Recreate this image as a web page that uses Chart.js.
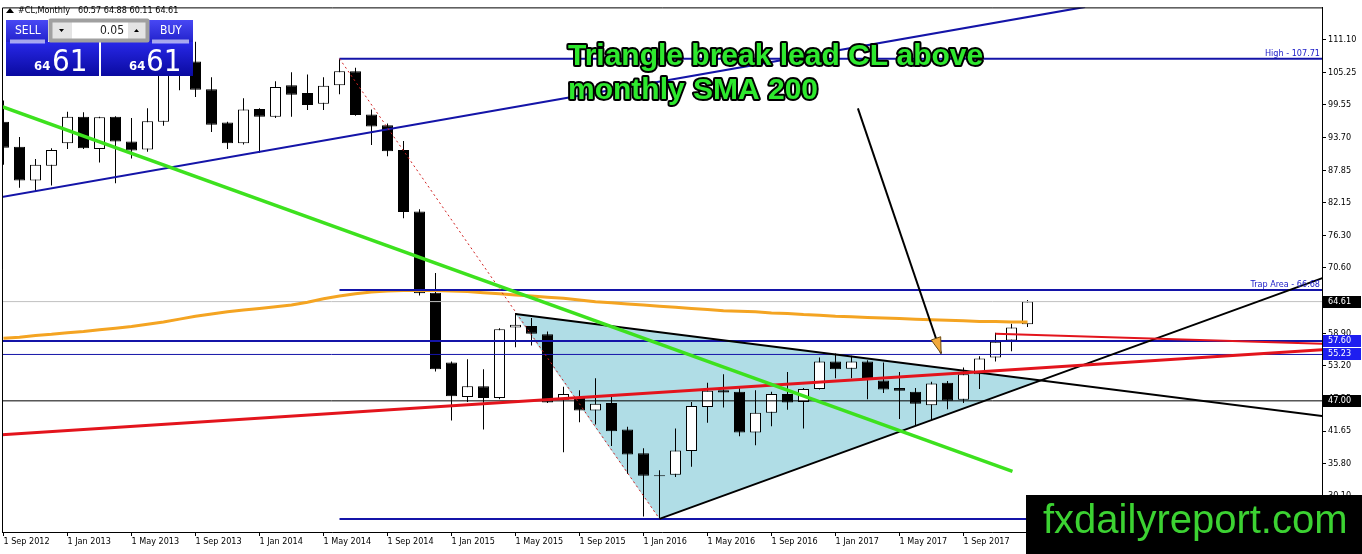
<!DOCTYPE html>
<html>
<head>
<meta charset="utf-8">
<title>#CL, Monthly</title>
<script src="https://cdn.jsdelivr.net/npm/chart.js@4.4.1/dist/chart.umd.min.js"></script>
<style>
    html, body { margin: 0; padding: 0; background: #fff; }
    #wrap { width: 1362px; height: 554px; position: relative; }
</style>
</head>
<body>
<div id="wrap"><canvas id="clChart" width="1362" height="554"></canvas></div>
<script>
// one candle per month
var months = ['Sep 2012', 'Oct 2012', 'Nov 2012', 'Dec 2012',
    'Jan 2013', 'Feb 2013', 'Mar 2013', 'Apr 2013', 'May 2013', 'Jun 2013', 'Jul 2013', 'Aug 2013', 'Sep 2013', 'Oct 2013', 'Nov 2013', 'Dec 2013',
    'Jan 2014', 'Feb 2014', 'Mar 2014', 'Apr 2014', 'May 2014', 'Jun 2014', 'Jul 2014', 'Aug 2014', 'Sep 2014', 'Oct 2014', 'Nov 2014', 'Dec 2014',
    'Jan 2015', 'Feb 2015', 'Mar 2015', 'Apr 2015', 'May 2015', 'Jun 2015', 'Jul 2015', 'Aug 2015', 'Sep 2015', 'Oct 2015', 'Nov 2015', 'Dec 2015',
    'Jan 2016', 'Feb 2016', 'Mar 2016', 'Apr 2016', 'May 2016', 'Jun 2016', 'Jul 2016', 'Aug 2016', 'Sep 2016', 'Oct 2016', 'Nov 2016', 'Dec 2016',
    'Jan 2017', 'Feb 2017', 'Mar 2017', 'Apr 2017', 'May 2017', 'Jun 2017', 'Jul 2017', 'Aug 2017', 'Sep 2017', 'Oct 2017', 'Nov 2017', 'Dec 2017',
    'Jan 2018'];

var opens = [96.5, 92.1, 86.1, 88.7,
    92.7, 97.4, 91.7, 97.4, 93.0, 91.6, 96.5, 105.0, 107.2, 102.3, 96.4, 92.7,
    98.8, 97.4, 103.0, 101.6, 99.7, 103.0, 105.5, 97.8, 95.9, 91.5, 80.6, 66.2,
    53.8, 47.7, 49.6, 47.5, 60.0, 60.3, 58.8, 47.2, 47.5, 45.3, 46.6, 41.9,
    37.7, 33.6, 33.9, 38.1, 45.9, 48.9, 48.6, 41.4, 44.9, 48.2, 46.8, 49.1,
    54.0, 52.7, 54.0, 50.6, 49.3, 48.6, 46.2, 50.2, 47.2, 51.7, 54.7, 57.7,
    60.57];
var highs = [100.3, 93.8, 89.9, 91.8,
    98.3, 98.2, 97.4, 97.5, 97.2, 98.9, 108.9, 112.2, 110.7, 104.4, 96.5, 100.7,
    98.9, 103.7, 105.3, 104.9, 104.4, 107.71, 106.1, 98.7, 96.2, 93.1, 81.0, 69.7,
    54.0, 54.4, 52.6, 59.9, 62.6, 61.7, 59.3, 49.5, 48.9, 51.0, 47.7, 42.4,
    38.6, 34.7, 42.1, 46.8, 50.2, 51.7, 49.5, 48.9, 48.6, 52.1, 49.3, 54.7,
    55.4, 55.0, 54.2, 53.8, 52.1, 49.3, 50.4, 50.5, 52.9, 54.9, 59.1, 60.7,
    64.88];
var lows = [88.9, 84.8, 84.1, 85.2,
    91.7, 91.7, 89.3, 85.6, 90.0, 91.2, 95.8, 102.1, 100.9, 94.7, 91.7, 92.5,
    91.0, 97.2, 97.4, 98.6, 98.6, 101.4, 97.6, 92.4, 90.4, 79.4, 65.7, 52.2,
    43.5, 46.8, 41.9, 47.3, 56.5, 56.8, 46.6, 37.9, 43.2, 42.8, 39.0, 34.0,
    26.5, 26.05, 33.5, 35.3, 43.1, 45.8, 40.7, 39.1, 42.5, 45.4, 42.1, 49.0,
    51.0, 51.0, 47.3, 48.4, 43.8, 42.6, 43.6, 45.5, 46.6, 49.1, 54.0, 55.8,
    60.11];
var closes = [91.9, 86.1, 88.9, 91.5,
    97.4, 91.8, 97.3, 93.0, 91.4, 96.6, 105.0, 107.6, 102.2, 96.0, 92.7, 98.7,
    97.4, 102.7, 101.3, 99.5, 102.9, 105.5, 97.7, 95.7, 91.3, 80.5, 66.1, 52.6,
    47.8, 49.6, 47.5, 59.7, 60.5, 58.9, 46.7, 48.2, 45.3, 46.5, 41.6, 37.5,
    33.7, 33.8, 38.2, 46.1, 48.8, 48.5, 41.4, 44.9, 48.2, 46.7, 49.1, 54.0,
    52.6, 54.0, 50.7, 49.0, 48.8, 46.5, 50.1, 47.0, 51.7, 54.5, 57.5, 60.0,
    64.61];

// monthly SMA 200 (orange)
var sma200 = [58.1, 58.3, 58.6, 58.8,
    59.1, 59.3, 59.6, 59.9, 60.2, 60.6, 61.0, 61.5, 62.0, 62.4, 62.8, 63.1,
    63.4, 63.7, 64.0, 64.5, 65.1, 65.6, 66.0, 66.3, 66.5, 66.6, 66.6, 66.6,
    66.5, 66.4, 66.2, 66.0, 65.8, 65.6, 65.4, 65.2, 64.9, 64.6, 64.4, 64.2,
    64.0, 63.8, 63.6, 63.4, 63.2, 63.0, 62.9, 62.8, 62.6, 62.5, 62.3, 62.2,
    62.0, 61.9, 61.8, 61.7, 61.6, 61.5, 61.4, 61.3, 61.2, 61.1, 61.1, 61.0,
    61.0];

// axis ticks
var xTickIdx = [0, 4, 8, 12, 16, 20, 24, 28, 32, 36, 40, 44, 48, 52, 56, 60];
var xTickLabels = ['1 Sep 2012', '1 Jan 2013', '1 May 2013', '1 Sep 2013', '1 Jan 2014', '1 May 2014', '1 Sep 2014', '1 Jan 2015',
    '1 May 2015', '1 Sep 2015', '1 Jan 2016', '1 May 2016', '1 Sep 2016', '1 Jan 2017', '1 May 2017', '1 Sep 2017'];
var yTicks = [111.10, 105.25, 99.55, 93.70, 87.85, 82.15, 76.30, 70.60, 64.75, 58.90, 53.20, 47.35, 41.65, 35.80, 30.10];

// levels (price)
var highLevel = 107.71;
var trapLevel = 66.68;
var bidLevel = 64.61;
var resistLevel = 57.60;
var supportLevel = 55.23;
var pivotLevel = 47.00;
var lowLevel = 26.05;

// drawn objects, [month index, price]
var channelLine = [[-1, 82.73], [67.6, 116.90]];
var greenLine = [[-0.19, 99.29], [63.06, 34.48]];
var redLine = [[-1, 40.83], [83, 56.18]];
var redShortLine = [[62, 58.90], [83, 57.10]];
var dropLine = [[21, 107.71], [41, 26.05]];
var triUpper = [[32, 62.41], [83, 44.10]];
var triLower = [[41, 26.05], [83, 69.37]];
var triangle = [[32, 62.41], [41, 26.05], [64.82, 50.62], [32, 62.41]];
var arrowLine = [[53.4, 98.9], [58.6, 55.4]];

var xMin = -0.09375, xMax = 82.40625;

function pts(arr) {
    return arr.map(function (p) { return { x: p[0], y: p[1] }; });
}
function hline(v, from) {
    return [{ x: from, y: v }, { x: 90, y: v }];
}
function lineSet(data, color, width, order, dash) {
    return {
        type: 'line', data: data, borderColor: color, borderWidth: width,
        borderDash: dash || [], pointRadius: 0, fill: false, tension: 0, order: order
    };
}

Chart.defaults.font.family = '"DejaVu Sans Condensed", "DejaVu Sans", sans-serif';
Chart.defaults.font.size = 9;
Chart.defaults.color = '#000';

// overlay: frame, texts, trade panel, price boxes, watermark
var overlayPlugin = {
    id: 'overlay',
    afterDraw: function (chart) {
        var ctx = chart.ctx;
        var area = chart.chartArea;
        var xs = chart.scales.x, ys = chart.scales.y;
        ctx.save();

        // frame top / left
        ctx.strokeStyle = '#000';
        ctx.lineWidth = 1;
        ctx.beginPath();
        ctx.moveTo(area.left + 0.5, area.bottom);
        ctx.lineTo(area.left + 0.5, area.top + 0.5);
        ctx.lineTo(area.right, area.top + 0.5);
        ctx.stroke();

        // level captions
        ctx.font = '9px "DejaVu Sans Condensed", "DejaVu Sans"';
        ctx.fillStyle = '#2020c8';
        ctx.textAlign = 'right';
        ctx.textBaseline = 'alphabetic';
        ctx.fillText('High - 107.71', area.right - 2, ys.getPixelForValue(highLevel) - 3);
        ctx.fillText('Trap Area - 66.68', area.right - 2, ys.getPixelForValue(trapLevel) - 3);

        // arrow head
        var sx = xs.getPixelForValue(arrowLine[0][0]), sy = ys.getPixelForValue(arrowLine[0][1]);
        var tx = xs.getPixelForValue(arrowLine[1][0]), ty = ys.getPixelForValue(arrowLine[1][1]);
        var len = Math.sqrt((tx - sx) * (tx - sx) + (ty - sy) * (ty - sy));
        var ux = (tx - sx) / len, uy = (ty - sy) / len;
        var bx = tx - ux * 16, by = ty - uy * 16;
        ctx.beginPath();
        ctx.moveTo(tx, ty);
        ctx.lineTo(bx - uy * 5, by + ux * 5);
        ctx.lineTo(bx + uy * 5, by - ux * 5);
        ctx.closePath();
        ctx.fillStyle = '#f2a93b';
        ctx.fill();
        ctx.strokeStyle = '#6b4a10';
        ctx.lineWidth = 1;
        ctx.stroke();

        // headline
        ctx.textAlign = 'left';
        ctx.font = 'bold 30px "Liberation Sans", Arial, sans-serif';
        ctx.lineJoin = 'round';
        ctx.lineWidth = 4;
        ctx.strokeStyle = '#000';
        ctx.fillStyle = '#2ee82e';
        ctx.strokeText('Triangle break lead CL above', 568, 65);
        ctx.fillText('Triangle break lead CL above', 568, 65);
        ctx.strokeText('monthly SMA 200', 568, 99);
        ctx.fillText('monthly SMA 200', 568, 99);

        // price boxes on the right axis
        function priceBox(v, bg) {
            var y = Math.round(ys.getPixelForValue(v));
            ctx.fillStyle = bg;
            ctx.fillRect(area.right + 1, y - 6, 38, 12);
            ctx.fillStyle = '#fff';
            ctx.font = '9px "DejaVu Sans Condensed", "DejaVu Sans"';
            ctx.textAlign = 'left';
            ctx.textBaseline = 'middle';
            ctx.fillText(v.toFixed(2), area.right + 6, y);
        }
        priceBox(bidLevel, '#000');
        priceBox(resistLevel, '#1e1ef0');
        priceBox(supportLevel, '#1e1ef0');
        priceBox(pivotLevel, '#000');

        // header
        ctx.fillStyle = '#000';
        ctx.beginPath();
        ctx.moveTo(6, 13); ctx.lineTo(10, 8); ctx.lineTo(14, 13); ctx.closePath();
        ctx.fill();
        ctx.font = '9px "DejaVu Sans Condensed", "DejaVu Sans"';
        ctx.textBaseline = 'middle';
        ctx.textAlign = 'left';
        ctx.fillText('#CL,Monthly', 18, 11);
        ctx.fillText('60.57 64.88 60.11 64.61', 78, 11);

        // trade panel
        function grad(y0, y1, c0, c1) {
            var g = ctx.createLinearGradient(0, y0, 0, y1);
            g.addColorStop(0, c0);
            g.addColorStop(1, c1);
            return g;
        }
        ctx.fillStyle = grad(20, 42, '#4848f4', '#2222cc');
        ctx.fillRect(6, 20, 42, 22);
        ctx.fillRect(149, 20, 44, 22);
        ctx.fillStyle = grad(42, 76, '#2828e8', '#0a0aa0');
        ctx.fillRect(6, 42, 93, 34);
        ctx.fillRect(101, 42, 92, 34);
        ctx.strokeStyle = 'rgba(255,255,255,0.6)';
        ctx.beginPath();
        ctx.moveTo(10, 41.5); ctx.lineTo(45, 41.5);
        ctx.moveTo(152, 41.5); ctx.lineTo(189, 41.5);
        ctx.stroke();
        // spinner
        ctx.fillStyle = '#e4e4e4';
        ctx.fillRect(50, 20, 98, 21);
        ctx.fillStyle = '#fff';
        ctx.fillRect(72, 21, 56, 19);
        ctx.strokeStyle = '#a0a0a0';
        ctx.strokeRect(50.5, 20.5, 97, 20);
        ctx.fillStyle = '#000';
        ctx.beginPath();
        ctx.moveTo(59, 29); ctx.lineTo(64, 29); ctx.lineTo(61.5, 32); ctx.closePath();
        ctx.moveTo(134, 32); ctx.lineTo(139, 32); ctx.lineTo(136.5, 29); ctx.closePath();
        ctx.fill();
        ctx.font = '12px "DejaVu Sans Condensed", "DejaVu Sans"';
        ctx.textAlign = 'right';
        ctx.fillStyle = '#222';
        ctx.fillText('0.05', 124, 31);
        ctx.textAlign = 'left';
        ctx.fillStyle = '#fff';
        ctx.fillText('SELL', 15, 31);
        ctx.fillText('BUY', 160, 31);
        ctx.textBaseline = 'alphabetic';
        ctx.font = 'bold 13px "DejaVu Sans Condensed", "DejaVu Sans"';
        ctx.fillText('64', 34, 70);
        ctx.fillText('64', 129, 70);
        ctx.font = '31px "DejaVu Sans Condensed", "DejaVu Sans"';
        ctx.fillText('61', 52, 71);
        ctx.fillText('61', 146, 71);

        // watermark
        ctx.fillStyle = '#000';
        ctx.fillRect(1026, 495, 336, 59);
        ctx.fillStyle = '#3cd232';
        ctx.font = '40px "Liberation Sans", Arial, sans-serif';
        ctx.textAlign = 'left';
        ctx.fillText('fxdailyreport.com', 1043, 533);

        ctx.restore();
    }
};

var wickData = months.map(function (m, i) { return { x: i, y: [lows[i], highs[i]] }; });
var bodyData = months.map(function (m, i) { return { x: i, y: [opens[i], closes[i]] }; });
var bodyColors = months.map(function (m, i) { return closes[i] >= opens[i] ? '#fff' : '#000'; });
var smaData = sma200.map(function (v, i) { return { x: i, y: v }; });

var ctx = document.getElementById('clChart').getContext('2d');
var chart = new Chart(ctx, {
    type: 'bar',
    data: {
        datasets: [
            {
                type: 'line', data: pts(triangle), borderWidth: 0, pointRadius: 0,
                backgroundColor: '#b0dde6', fill: 'shape', tension: 0, order: 20
            },
            {
                type: 'bar', data: wickData, backgroundColor: '#000', borderWidth: 0,
                barThickness: 1, maxBarThickness: 1, grouped: false, inflateAmount: 0, order: 19
            },
            {
                type: 'bar', data: bodyData, backgroundColor: bodyColors, borderColor: '#000', borderWidth: 1,
                borderSkipped: false, barThickness: 11, maxBarThickness: 11, grouped: false, inflateAmount: 0, order: 18
            },
            lineSet(hline(bidLevel, -1), '#c0c0c0', 1, 17),
            lineSet(smaData, '#f4a422', 3, 16),
            lineSet(hline(pivotLevel, -1), '#000', 1, 15),
            lineSet(hline(supportLevel, -1), '#1414a8', 1, 14),
            lineSet(hline(resistLevel, -1), '#1414a8', 2, 13),
            lineSet(hline(highLevel, 21), '#1414a8', 2, 12),
            lineSet(hline(trapLevel, 21), '#1414a8', 2, 11),
            lineSet(hline(lowLevel, 21), '#1414a8', 2, 10),
            lineSet(pts(channelLine), '#1414a8', 2, 9),
            lineSet(pts(dropLine), '#d02020', 1, 8, [2, 3]),
            lineSet(pts(triUpper), '#000', 2, 7),
            lineSet(pts(triLower), '#000', 2, 6),
            lineSet(pts(redLine), '#e3141c', 3, 5),
            lineSet(pts(redShortLine), '#e3141c', 2, 4),
            lineSet(pts(greenLine), '#3de11e', 3.5, 3),
            lineSet(pts(arrowLine), '#000', 2, 2)
        ]
    },
    options: {
        responsive: false,
        devicePixelRatio: 1,
        animation: false,
        events: [],
        layout: { padding: { left: 2, top: 2, right: 0, bottom: 0 } },
        plugins: { legend: { display: false }, tooltip: { enabled: false } },
        scales: {
            x: {
                type: 'linear', min: xMin, max: xMax, offset: false,
                grid: { drawOnChartArea: false, drawTicks: true, tickLength: 4, color: '#000', offset: false },
                border: { display: true, color: '#000' },
                afterBuildTicks: function (scale) {
                    scale.ticks = xTickIdx.map(function (v) { return { value: v }; });
                },
                afterFit: function (scale) { scale.height = 22; },
                ticks: {
                    align: 'start', autoSkip: false, maxRotation: 0, minRotation: 0, padding: 0,
                    callback: function (value, index) { return xTickLabels[index]; }
                }
            },
            y: {
                type: 'linear', position: 'right', min: 23.73, max: 116.81, beginAtZero: false,
                grid: { drawOnChartArea: false, drawTicks: true, tickLength: 4, color: '#000' },
                border: { display: true, color: '#000' },
                afterBuildTicks: function (scale) {
                    scale.ticks = yTicks.map(function (v) { return { value: v }; });
                },
                afterFit: function (scale) { scale.width = 40; },
                ticks: {
                    padding: 2,
                    callback: function (value) { return value.toFixed(2); }
                }
            }
        }
    },
    plugins: [overlayPlugin]
});
</script>
</body>
</html>
